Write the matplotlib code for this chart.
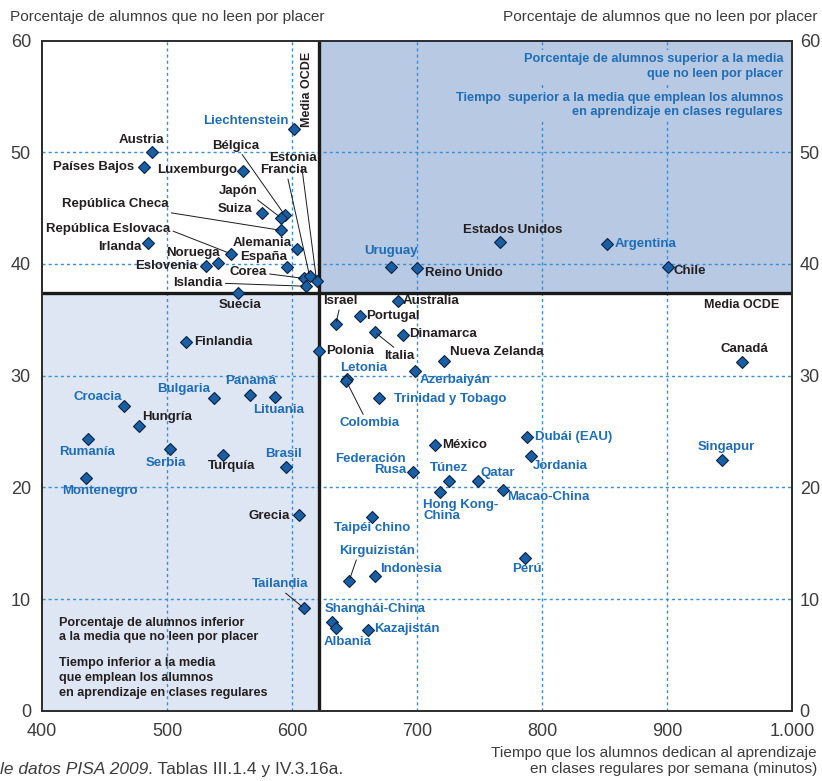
import matplotlib
matplotlib.use("Agg")
import matplotlib.pyplot as plt
from matplotlib.patches import Rectangle
from matplotlib.ticker import FixedLocator, FuncFormatter

# ---------------- data ----------------
countries = [
    "Liechtenstein", "Austria", "Países Bajos", "Luxemburgo", "Bélgica", "Japón", "Suiza",
    "República Checa", "República Eslovaca", "Irlanda", "Alemania", "Noruega", "Eslovenia",
    "España", "Corea", "Islandia", "Estonia", "Francia", "Suecia",
    "Uruguay", "Reino Unido", "Estados Unidos", "Argentina", "Chile",
    "Finlandia", "Polonia", "Croacia", "Bulgaria", "Panamá", "Lituania", "Hungría",
    "Rumanía", "Serbia", "Turquía", "Brasil", "Montenegro",
    "Israel", "Australia", "Portugal", "Italia", "Dinamarca", "Nueva Zelanda", "Azerbaiyán",
    "Letonia", "Colombia", "Trinidad y Tobago", "México", "Dubái (EAU)", "Jordania",
    "Singapur", "Canadá", "Federación\nRusa", "Túnez", "Qatar", "Hong Kong-\nChina",
    "Macao-China", "Grecia", "Tailandia", "Taipéi chino", "Kirguizistán", "Indonesia",
    "Perú", "Shanghái-China", "Albania", "Kazajistán",
]
minutes = [
    601.5, 488.0, 481.2, 561.0, 594.0, 591.5, 575.6,
    591.4, 551.3, 484.5, 603.7, 540.9, 531.3,
    595.7, 609.5, 610.9, 619.7, 614.1, 556.9,
    679.1, 699.9, 766.7, 851.7, 901.0,
    515.5, 621.6, 465.2, 537.4, 566.3, 586.0, 477.2,
    436.6, 502.6, 544.9, 594.9, 435.3,
    635.0, 684.4, 654.5, 666.2, 689.0, 721.3, 698.6,
    644.3, 643.5, 669.7, 714.7, 787.9, 791.3,
    943.7, 959.7, 697.0, 725.3, 749.1, 718.7,
    768.6, 605.5, 609.6, 663.8, 645.6, 666.0,
    786.0, 632.3, 635.5, 660.4,
]
pct_no_read = [
    52.05, 50.05, 48.7, 48.3, 44.4, 44.1, 44.6,
    43.0, 40.9, 41.9, 41.3, 40.05, 39.8,
    39.7, 38.7, 38.0, 38.5, 38.9, 37.4,
    39.7, 39.6, 42.0, 41.75, 39.7,
    33.0, 32.2, 27.3, 28.0, 28.3, 28.1, 25.5,
    24.3, 23.4, 22.9, 21.8, 20.8,
    34.6, 36.7, 35.3, 33.9, 33.6, 31.3, 30.4,
    29.7, 29.5, 28.0, 23.8, 24.5, 22.8,
    22.4, 31.2, 21.4, 20.6, 20.6, 19.55,
    19.8, 17.5, 9.17, 17.3, 11.6, 12.1,
    13.7, 7.97, 7.37, 7.2,
]
oecd = [
    0, 1, 1, 1, 1, 1, 1,
    1, 1, 1, 1, 1, 1,
    1, 1, 1, 1, 1, 1,
    0, 1, 1, 0, 1,
    1, 1, 0, 0, 0, 0, 1,
    0, 0, 1, 0, 0,
    1, 1, 1, 1, 1, 1, 0,
    0, 0, 0, 1, 0, 0,
    0, 1, 0, 0, 0, 0,
    0, 1, 0, 0, 0, 0,
    0, 0, 0, 0,
]
mean_minutes = 621.6
mean_pct = 37.4

x_ticks = [400, 500, 600, 700, 800, 900, 1000]
y_ticks = [0, 10, 20, 30, 40, 50, 60]

# label layout: name -> (dx px, dy px, ha, leader relpos or None)
layout = {
    "Liechtenstein": (-5, 8, "right", None),
    "Austria": (-11, 12, "center", None),
    "Países Bajos": (-9, 0, "right", None),
    "Luxemburgo": (-6, 1, "right", None),
    "Bélgica": (-49, 69, "center", (0.6, 0)),
    "Japón": (-43, 27, "center", (0.9, 0)),
    "Suiza": (-9, 4, "right", None),
    "República Checa": (-166, 26, "center", (0.88, 0)),
    "República Eslovaca": (-123, 25, "center", (1, 0.4)),
    "Irlanda": (-6, -4, "right", None),
    "Alemania": (-5, 6, "right", None),
    "Noruega": (-25, 10, "center", None),
    "Eslovenia": (-9, 0, "right", None),
    "España": (0, 10, "right", None),
    "Corea": (-37, 6, "right", (1, 0.4)),
    "Islandia": (-83, 3, "right", (1, 0.5)),
    "Estonia": (0, 123, "right", (0.68, 0)),
    "Francia": (-2, 106, "right", (0.57, 0)),
    "Suecia": (2, -12, "center", None),
    "Uruguay": (0, 16, "center", None),
    "Reino Unido": (8, -5, "left", None),
    "Estados Unidos": (12, 12, "center", None),
    "Argentina": (8, 0, "left", None),
    "Chile": (5, -4, "left", None),
    "Finlandia": (8, 0, "left", None),
    "Polonia": (7, 0, "left", None),
    "Croacia": (-2, 9, "right", None),
    "Bulgaria": (-4, 9, "right", None),
    "Panamá": (1, 14, "center", None),
    "Lituania": (4, -13, "center", None),
    "Hungría": (4, 9, "left", None),
    "Rumanía": (-1, -13, "center", None),
    "Serbia": (-4, -14, "center", None),
    "Turquía": (8, -11, "center", None),
    "Brasil": (-2, 13, "center", None),
    "Montenegro": (14, -13, "center", None),
    "Israel": (5, 23, "center", (0.47, 0)),
    "Australia": (5, 0, "left", None),
    "Portugal": (6, 0, "left", None),
    "Italia": (24, -24, "center", (0.45, 1)),
    "Dinamarca": (6, 1, "left", None),
    "Nueva Zelanda": (6, 9, "left", None),
    "Azerbaiyán": (4, -9, "left", None),
    "Letonia": (16, 11, "center", None),
    "Colombia": (23, -42, "center", (0.42, 1)),
    "Trinidad y Tobago": (15, -1, "left", None),
    "México": (7, 0, "left", None),
    "Dubái (EAU)": (8, 0, "left", None),
    "Jordania": (2, -10, "left", None),
    "Singapur": (5, 13, "center", None),
    "Canadá": (3, 13, "center", None),
    "Federación\nRusa": (-7, 7, "right", None),
    "Túnez": (0, 13, "center", None),
    "Qatar": (2, 8, "left", None),
    "Hong Kong-\nChina": (-17, -18, "left", None),
    "Macao-China": (4, -7, "left", None),
    "Grecia": (-9, -1, "right", None),
    "Tailandia": (-24, 24, "center", (0.54, 0)),
    "Taipéi chino": (0, -11, "center", None),
    "Kirguizistán": (28, 30, "center", (0.24, 0)),
    "Indonesia": (6, 7, "left", None),
    "Perú": (2, -11, "center", None),
    "Shanghái-China": (-8, 13, "left", None),
    "Albania": (-13, -14, "left", None),
    "Kazajistán": (7, 1, "left", None),
}

# ---------------- style ----------------
BLUE_TXT = "#1f6db5"
DARK_TXT = "#231f20"
GRAY_TXT = "#3c3c3c"
UR_FILL = "#b8c9e4"
LL_FILL = "#dee6f3"
GRID_C = "#3b8ed6"
LABEL_FONT = ["Liberation Sans", "DejaVu Sans"]
PLAIN_FONT = ["Liberation Sans", "DejaVu Sans"]
plt.rcParams["font.family"] = PLAIN_FONT

W, H = 822, 781
fig = plt.figure(figsize=(W / 100, H / 100), dpi=100)
ax = fig.add_axes([42 / W, 1 - 710.7 / H, 750 / W, 670.2 / H])
ax.set_xlim(x_ticks[0], x_ticks[-1])
ax.set_ylim(y_ticks[0], y_ticks[-1])

# quadrants
ax.add_patch(Rectangle((x_ticks[0], y_ticks[0]), mean_minutes - x_ticks[0],
                       mean_pct - y_ticks[0], facecolor=LL_FILL, edgecolor="none", zorder=0))
ax.add_patch(Rectangle((mean_minutes, mean_pct), x_ticks[-1] - mean_minutes,
                       y_ticks[-1] - mean_pct, facecolor=UR_FILL, edgecolor="none", zorder=0))

# grid
for xv in x_ticks[1:-1]:
    ax.axvline(xv, color=GRID_C, lw=1.0, ls=(0, (2.2, 2.2)), zorder=1)
for yv in y_ticks[1:-1]:
    ax.axhline(yv, color=GRID_C, lw=1.0, ls=(0, (2.2, 2.2)), zorder=1)

# mean lines
ax.axvline(mean_minutes, color="#1a1a1a", lw=2.4, zorder=2)
ax.axhline(mean_pct, color="#1a1a1a", lw=2.4, zorder=2)

# points
ax.plot(minutes, pct_no_read, ls="none", marker="D", ms=6.2, mfc="#1a5fa3",
        mec="#0b2240", mew=0.8, zorder=5)

LFS = 9.5
for name, xv, yv, o in zip(countries, minutes, pct_no_read, oecd):
    dx, dy, ha, rel = layout[name]
    kw = dict(textcoords="offset pixels", xytext=(dx, dy), ha=ha, va="center",
              fontsize=LFS, fontweight="bold", family=LABEL_FONT,
              color=DARK_TXT if o else BLUE_TXT, linespacing=0.85,
              multialignment=ha if ha != "center" else "center", zorder=6)
    if rel is not None:
        kw["arrowprops"] = dict(arrowstyle="-", color="#1a1a1a", lw=0.7,
                                shrinkA=0, shrinkB=2, relpos=rel)
    ax.annotate(name, xy=(xv, yv), **kw)

# quadrant annotations
tr = ax.transAxes
def px(x, y):
    return ((x - 42) / 750, (710.7 - y) / 670.2)

ax.text(*px(783, 66.5), "Porcentaje de alumnos superior a la media\nque no leen por placer",
        transform=tr, ha="right", va="center", multialignment="right", fontsize=9.2,
        fontweight="bold", family=LABEL_FONT, color=BLUE_TXT, linespacing=1.35, zorder=4,
        bbox=dict(boxstyle="square,pad=0.25", fc=UR_FILL, ec="none"))
ax.text(*px(783, 104.7), "Tiempo  superior a la media que emplean los alumnos\nen aprendizaje en clases regulares",
        transform=tr, ha="right", va="center", multialignment="right", fontsize=9.2,
        fontweight="bold", family=LABEL_FONT, color=BLUE_TXT, linespacing=1.25, zorder=4,
        bbox=dict(boxstyle="square,pad=0.25", fc=UR_FILL, ec="none"))
ax.text(*px(59, 630), "Porcentaje de alumnos inferior\na la media que no leen por placer",
        transform=tr, ha="left", va="center", fontsize=9.1, fontweight="bold",
        family=LABEL_FONT, color=DARK_TXT, linespacing=1.31, zorder=4)
ax.text(*px(59, 678), "Tiempo inferior a la media\nque emplean los alumnos\nen aprendizaje en clases regulares",
        transform=tr, ha="left", va="center", fontsize=9.1, fontweight="bold",
        family=LABEL_FONT, color=DARK_TXT, linespacing=1.34, zorder=4)
ax.text(*px(307.5, 89), "Media OCDE", transform=tr, rotation=90, ha="center", va="center",
        fontsize=9, fontweight="bold", family=LABEL_FONT, color=DARK_TXT, zorder=4)
ax.text(*px(779, 305), "Media OCDE", transform=tr, ha="right", va="center",
        fontsize=9, fontweight="bold", family=LABEL_FONT, color=DARK_TXT, zorder=4)

# axes styling
for s in ax.spines.values():
    s.set_linewidth(1.4)
    s.set_color("#2b2b2b")
    s.set_zorder(7)
ax.xaxis.set_major_locator(FixedLocator(x_ticks))
ax.yaxis.set_major_locator(FixedLocator(y_ticks))
ax.xaxis.set_major_formatter(FuncFormatter(lambda v, p: f"{int(v):,}".replace(",", ".")))
ax.tick_params(axis="both", length=0, labelsize=13, labelcolor=GRAY_TXT)
ax.tick_params(axis="x", pad=9)
ax.tick_params(axis="y", pad=8)

sec = ax.secondary_yaxis("right")
sec.yaxis.set_major_locator(FixedLocator(y_ticks))
sec.tick_params(axis="y", length=0, pad=5.5, labelsize=13, labelcolor=GRAY_TXT)
sec.spines["right"].set_visible(False)

# titles / axis labels
fig.text(10 / W, 1 - 17 / H, "Porcentaje de alumnos que no leen por placer", ha="left",
         va="center", fontsize=11.1, family=PLAIN_FONT, color=GRAY_TXT)
fig.text(817 / W, 1 - 17 / H, "Porcentaje de alumnos que no leen por placer", ha="right",
         va="center", fontsize=11.1, family=PLAIN_FONT, color=GRAY_TXT)
fig.text(817 / W, 1 - 761 / H,
         "Tiempo que los alumnos dedican al aprendizaje\nen clases regulares por semana (minutos)",
         ha="right", va="center", multialignment="right", fontsize=11.1, family=PLAIN_FONT,
         color=GRAY_TXT, linespacing=1.23)
fig.text(148 / W, 1 - 762 / H, "le datos PISA 2009", ha="right", va="top",
         fontsize=12.5, style="italic", family=PLAIN_FONT, color=GRAY_TXT)
fig.text(148 / W, 1 - 762 / H, ". Tablas III.1.4 y IV.3.16a.", ha="left", va="top",
         fontsize=12.5, family=PLAIN_FONT, color=GRAY_TXT)

fig.savefig("out.png", dpi=100)
